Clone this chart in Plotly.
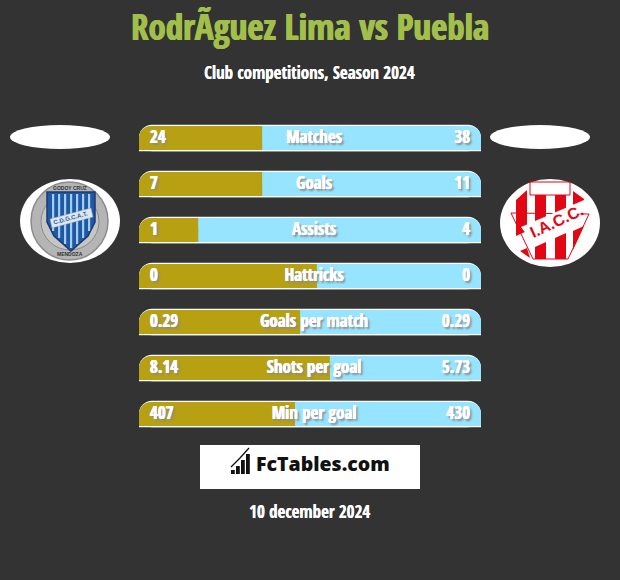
import plotly.graph_objects as go

metrics = ["Matches", "Goals", "Assists", "Hattricks", "Goals per match", "Shots per goal", "Min per goal"]
left_values = ["24", "7", "1", "0", "0.29", "8.14", "407"]
right_values = ["38", "11", "4", "0", "0.29", "5.73", "430"]
left_share = [36.0, 36.0, 17.3, 52.0, 47.1, 55.8, 45.6]
total_share = [100] * 7

W, H = 620, 580
BG = "#333333"
GOLD = "#b8a013"
BLUE = "#96e4ff"
GREEN = "#a1bf4a"
NARROW = "'Open Sans Condensed', 'Roboto Condensed', sans-serif"
rows = list(range(len(metrics)))
PX = 1 / 46  # one pixel in row units
outer = 26.5 * PX
inner = 24.0 * PX
half_left = [s / 2 for s in left_share]
text_rows = [r + 1.0 * PX for r in rows]


def px(x):
    return x / W


def py(y):
    return 1 - y / H


def bar(x, base, width, offset, color, radius=0):
    return go.Bar(
        y=rows, x=x, base=base, orientation="h", width=width, offset=offset,
        marker=dict(color=color, line_width=0, cornerradius=radius),
        hoverinfo="skip", showlegend=False,
    )


zero = [0] * 7
fig = go.Figure()
# white edge, then the blue track, then the gold part; tops rounded, bottoms square
fig.add_trace(bar(total_share, zero, outer, -outer / 2, "#ffffff", 13))
fig.add_trace(bar(total_share, zero, outer / 2, 0, "#ffffff"))
fig.add_trace(bar(total_share, zero, inner, -inner / 2, BLUE, 12))
fig.add_trace(bar(total_share, zero, inner / 2, 0, BLUE))
fig.add_trace(bar(left_share, zero, inner, -inner / 2, GOLD, 12))
fig.add_trace(bar(half_left, half_left, inner, -inner / 2, GOLD))
fig.add_trace(bar(left_share, zero, inner / 2, 0, GOLD))


def text_trace(xs, labels, pos):
    return go.Scatter(
        x=xs, y=text_rows, text=labels, mode="text", textposition=pos,
        textfont=dict(family=NARROW, size=17, color="#ffffff", weight="bold",
                      shadow="0.35px 0 0 #ffffff, -0.35px 0 0 #ffffff, 2px 2px 2px #8a8a8a"),
        hoverinfo="skip", showlegend=False, cliponaxis=False,
    )


fig.add_trace(text_trace([3.2] * 7, left_values, "middle right"))
fig.add_trace(text_trace([96.8] * 7, right_values, "middle left"))
fig.add_trace(text_trace([51.2] * 7, metrics, "middle center"))

shapes = []


def ellipse(x0, y0, x1, y1, fill, line=None, lw=0):
    shapes.append(dict(type="circle", xref="paper", yref="paper", x0=px(x0), x1=px(x1),
                       y0=py(y0), y1=py(y1), fillcolor=fill, line=dict(color=line or fill, width=lw)))


def rect(x0, y0, x1, y1, fill):
    shapes.append(dict(type="rect", xref="paper", yref="paper", x0=px(x0), x1=px(x1),
                       y0=py(y0), y1=py(y1), fillcolor=fill, line_width=0))


def poly(points, fill, line=None, lw=0):
    # pixel points to paper coordinates
    path = "M" + " L".join(f"{px(a):.5f},{py(b):.5f}" for a, b in points) + " Z"
    shapes.append(dict(type="path", xref="paper", yref="paper", path=path, fillcolor=fill,
                       line=dict(color=line or fill, width=lw)))


# top ovals
ellipse(10, 125, 110, 149, "#ffffff")
ellipse(490, 125, 590, 149, "#ffffff")

# left crest
ellipse(20, 179, 120, 263, "#ffffff")
ellipse(31, 182, 108, 260, "#b5b5b5", "#8b8b8b", 1.5)
ellipse(41, 193, 99, 250, "#c6c6c6", "#8a8a8a", 1)
shield = [(47, 192), (95, 192), (95, 222), (88, 236), (71, 251), (54, 236), (47, 222)]
poly(shield, "#1c5aa8", "#20386e", 1.5)
for sx, top, bottom in [(52, 194, 231), (58, 194, 238), (64, 194, 244), (70, 194, 248),
                        (76, 194, 244), (82, 194, 238), (88, 194, 231)]:
    rect(sx, top, sx + 2.2, bottom, "#a9cbea")
poly([(50, 219), (91, 208), (93, 217), (52, 228)], "#dfe7ee", "#8aa0b5", 0.5)

# right crest
ellipse(500, 179, 600, 267, "#ffffff")
RED = "#e30613"
poly([(516, 200), (527, 190), (527, 231), (516, 236)], RED)
poly([(535, 195), (546, 195), (546, 224), (535, 228)], RED)
poly([(555, 195), (566, 195), (566, 214), (555, 218)], RED)
poly([(573, 191), (584, 199), (584, 204), (573, 209)], RED)
poly([(535, 247), (546, 242), (546, 259), (535, 259)], RED)
poly([(555, 238), (566, 233), (566, 259), (555, 259)], RED)
poly([(520, 251), (527, 248), (530, 258)], RED)
poly([(573, 231), (584, 226), (573, 250)], RED)
poly([(511, 213), (533, 259), (568, 259), (589, 214)], "rgba(0,0,0,0)", RED, 1)
poly([(530, 182), (530, 195), (570, 195), (570, 182)], "rgba(0,0,0,0)", RED, 1)
poly([(521, 227), (584, 200), (589, 209), (530, 239)], "#ffffff")

# FcTables box and icon
rect(200, 445, 420, 489, "#ffffff")
for x0, top in [(231, 470), (236, 466), (241, 460), (246, 454)]:
    rect(x0, top, x0 + 3.8, 474, "#111111")
shapes.append(dict(type="path", xref="paper", yref="paper", fillcolor="rgba(0,0,0,0)",
                   path=f"M{px(231):.5f},{py(467):.5f} L{px(240):.5f},{py(458):.5f} L{px(249):.5f},{py(448):.5f}",
                   line=dict(color="#111111", width=1.3)))


def note(x, y, text, size, color="#ffffff", family=NARROW, weight="bold", angle=0, shadow="none"):
    return dict(x=px(x), y=py(y), xref="paper", yref="paper", text=text, showarrow=False,
                xanchor="center", yanchor="middle", textangle=angle,
                font=dict(family=family, size=size, color=color, weight=weight, shadow=shadow))


annotations = [
    note(310, 26.5, "RodrÃguez Lima vs Puebla", 35, GREEN,
         shadow="0.6px 0 0 #a1bf4a, -0.6px 0 0 #a1bf4a"),
    note(309.5, 73, "Club competitions, Season 2024", 17, shadow="0.3px 0 0 #ffffff"),
    note(309.5, 511, "10 december 2024", 17, shadow="0.3px 0 0 #ffffff"),
    note(323, 463.5, "FcTables.com", 19.5, "#111111", "Open Sans", 800),
    note(70, 188, "GODOY CRUZ", 5, "#333333", "Liberation Sans", 700),
    note(70, 254, "MENDOZA", 5, "#333333", "Liberation Sans", 700),
    note(70.5, 218, "C.D.G.C.A.T.", 6, "#2b5ea8", "Liberation Sans", 700, -15),
    note(556, 221, "I.A.C.C.", 16, RED, "Liberation Sans", 700, -25),
]

fig.update_layout(
    width=W, height=H, autosize=False, margin=dict(l=0, r=0, t=0, b=0),
    paper_bgcolor=BG, plot_bgcolor=BG, barmode="overlay", showlegend=False,
    shapes=shapes, annotations=annotations,
    xaxis=dict(domain=[139 / W, 481 / W], range=[0, 100], visible=False, fixedrange=True),
    yaxis=dict(domain=[0, 1], range=[(H - 138) / 46, -138 / 46], visible=False, fixedrange=True),
)
page_reset = "document.body.style.margin='0';document.documentElement.style.background='#333333';document.body.style.background='#333333';"
fig.write_html("out.html", config=dict(displayModeBar=False), post_script=page_reset)
